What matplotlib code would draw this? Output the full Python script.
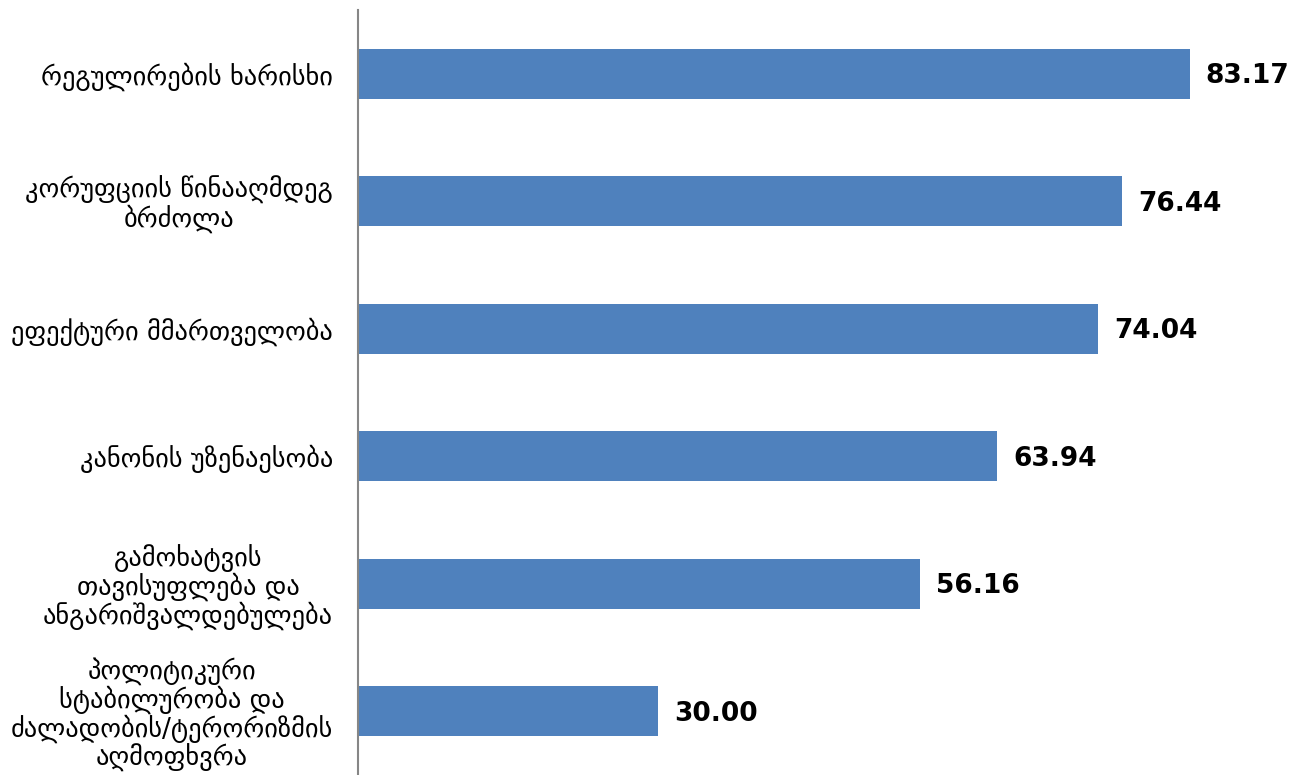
import matplotlib.pyplot as plt

# indicator names (top to bottom) and scores
categories = [
    'რეგულირების ხარისხი',
    'კორუფციის წინააღმდეგ\nბრძოლა',
    'ეფექტური მმართველობა',
    'კანონის უზენაესობა',
    'გამოხატვის\nთავისუფლება და\nანგარიშვალდებულება',
    'პოლიტიკური\nსტაბილურობა და\nძალადობის/ტერორიზმის\nაღმოფხვრა',
]
scores = [83.17, 76.44, 74.04, 63.94, 56.16, 30.00]

plt.rcParams['font.family'] = ['DejaVu Sans']

fig = plt.figure(figsize=(12.94, 7.75), dpi=100)
ax = fig.add_axes([358 / 1294, 0.0, 900 / 1294, 1 - 10 / 775])

y = list(range(len(categories)))
bars = ax.barh(y, scores, height=0.39, color='#4F81BD')

for b, v in zip(bars, scores):
    ax.text(b.get_width() + 1.6, b.get_y() + b.get_height() / 2 + 0.02, f'{v:.2f}',
            va='center', ha='left', fontsize=19, fontweight='bold', clip_on=False)

ax.set_yticks(y)
ax.set_yticklabels(categories, fontsize=19, ha='right', multialignment='center',
                   linespacing=1.03)
ax.tick_params(axis='y', length=0, pad=18)
ax.set_ylim(len(categories) - 0.5, -0.5)
ax.set_xlim(0, 90)
ax.set_xticks([])

for s in ['top', 'right', 'bottom']:
    ax.spines[s].set_visible(False)
ax.spines['left'].set_color('#868686')
ax.spines['left'].set_linewidth(1.5)

fig.savefig('out.png', dpi=100)
